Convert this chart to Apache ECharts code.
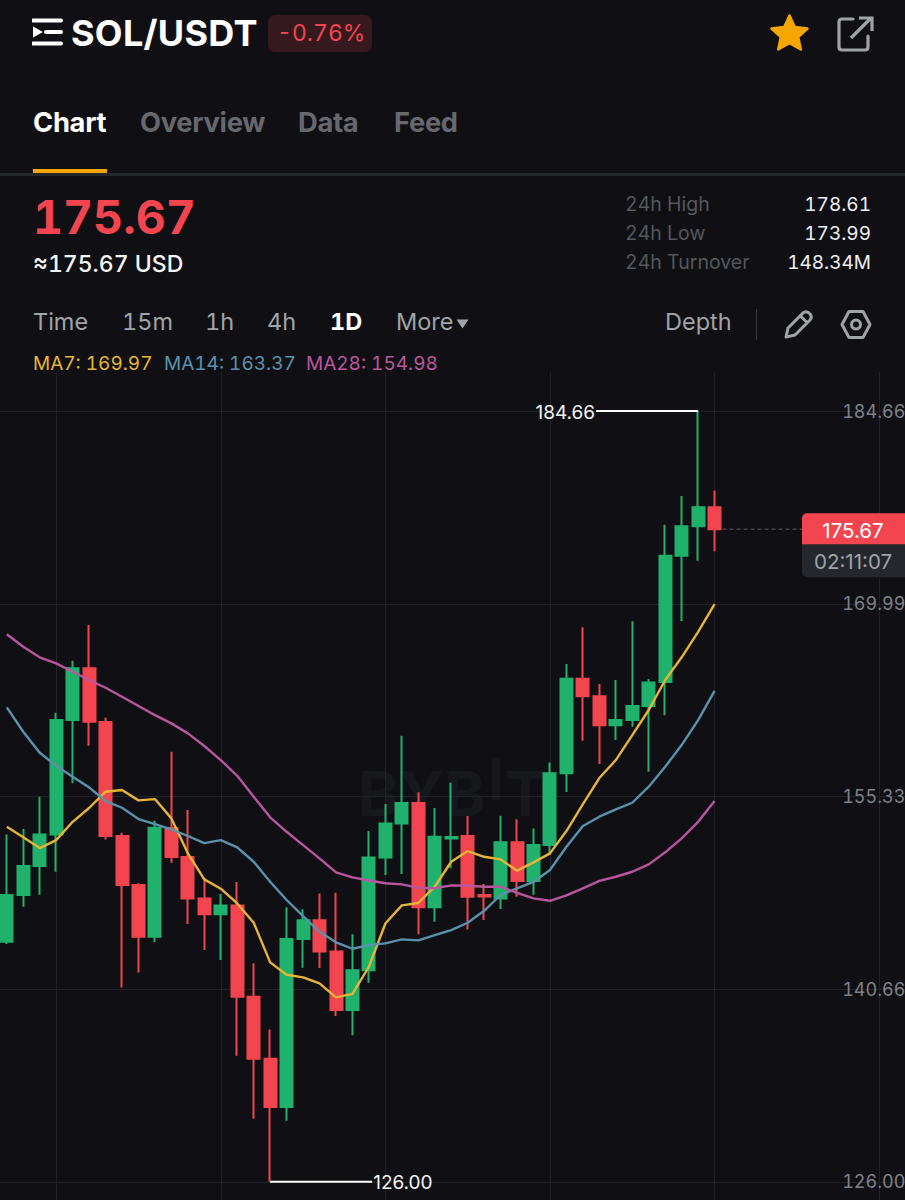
<!DOCTYPE html>
<html>
<head>
<meta charset="utf-8">
<title>SOL/USDT</title>
<script src="https://cdn.jsdelivr.net/npm/echarts@6/dist/echarts.min.js"></script>
<style>
    html, body { margin: 0; padding: 0; background: #101014; }
    body { width: 905px; height: 1200px; position: relative; overflow: hidden; font-family: Inter, "Noto Sans", sans-serif; font-variant-numeric: tabular-nums; }
    #chart { position: absolute; left: 0; top: 0; width: 905px; height: 1200px; }
    #chart text { font-variant-numeric: tabular-nums; }
    .t { position: absolute; white-space: nowrap; line-height: 1; }
    .tab { top: 109px; font-size: 27.3px; font-weight: 700; color: #66686e; letter-spacing: -0.3px; }
    .stat { font-size: 19.5px; color: #55575c; }
    .val { font-size: 19px; color: #eeeff1; right: 34px; }
    .tool { top: 310px; font-size: 23.5px; color: #a0a3a8; }
    .ma { top: 354px; font-size: 19px; }
    svg { position: absolute; }
</style>
</head>
<body>
<div id="chart"></div>

<svg style="left:32px;top:18px" width="31" height="28" viewBox="0 0 31 28">
    <path d="M1 2.5H29M14 14H29M1 25.5H29" stroke="#fff" stroke-width="4" stroke-linecap="round" fill="none"/>
    <path d="M1 8.5L11 14L1 19.5Z" fill="#fff"/>
</svg>
<div class="t" id="symbol" style="left:71px;top:15px;font-size:36px;font-weight:700;color:#fff;letter-spacing:0.3px">SOL/USDT</div>
<div style="position:absolute;left:268px;top:15px;width:104px;height:37px;background:#35191e;border-radius:7px"></div>
<div class="t" style="left:277px;top:22px;font-size:23px;color:#f2454f">-0.76%</div>
<svg style="left:769px;top:13px" width="41" height="39" viewBox="0 0 41 39">
    <path d="M20.5 2.5L25.8 14L38.5 15.5L29.2 24L31.8 36.5L20.5 30.2L9.2 36.5L11.8 24L2.5 15.5L15.2 14Z" fill="#f7a600" stroke="#f7a600" stroke-width="2.5" stroke-linejoin="round"/>
</svg>
<svg style="left:837px;top:15px" width="37" height="37" viewBox="0 0 37 37">
    <path d="M16 4H5Q2 4 2 7V32Q2 35 5 35H28Q31 35 31 32V21" stroke="#a0a3a8" stroke-width="3.2" fill="none" stroke-linecap="round"/>
    <path d="M14 23L34 3M22 3H35V16" stroke="#a0a3a8" stroke-width="3.2" fill="none"/>
</svg>

<div class="t tab" style="left:33px;color:#fff">Chart</div>
<div class="t tab" style="left:140px">Overview</div>
<div class="t tab" style="left:298px">Data</div>
<div class="t tab" style="left:394px">Feed</div>
<div style="position:absolute;left:0;top:173px;width:905px;height:3px;background:#24272c"></div>
<div style="position:absolute;left:33px;top:169px;width:74px;height:4px;background:#f7a600"></div>

<div class="t" style="left:33px;top:194px;font-size:46.5px;font-weight:700;color:#f2454f">175.67</div>
<div class="t" style="left:33px;top:253px;font-size:23px;font-weight:500;color:#f4f5f6">≈175.67 USD</div>
<div class="t stat" style="left:625px;top:195px">24h High</div>
<div class="t stat" style="left:625px;top:224px">24h Low</div>
<div class="t stat" style="left:625px;top:253px">24h Turnover</div>
<div class="t val" style="top:195px">178.61</div>
<div class="t val" style="top:224px">173.99</div>
<div class="t val" style="top:253px">148.34M</div>

<div class="t tool" style="left:33px">Time</div>
<div class="t tool" style="left:122px">15m</div>
<div class="t tool" style="left:205px">1h</div>
<div class="t tool" style="left:267px">4h</div>
<div class="t tool" style="left:330px;font-weight:700;color:#fff">1D</div>
<div class="t tool" style="left:396px">More</div>
<svg style="left:456px;top:319px" width="13" height="10" viewBox="0 0 13 10"><path d="M0.5 0.5H12.5L6.5 9.5Z" fill="#a0a3a8"/></svg>
<div class="t tool" style="left:665px">Depth</div>
<div style="position:absolute;left:756px;top:309px;width:1px;height:31px;background:#34363b"></div>
<svg style="left:783px;top:309px" width="31" height="31" viewBox="0 0 31 31">
    <path d="M3 28L5 19L20 4Q23 1.5 26 4L27 5Q29.5 8 27 11L12 26Z M17.5 7L24.5 14" stroke="#a0a3a8" stroke-width="3" fill="none" stroke-linejoin="round"/>
</svg>
<svg style="left:840px;top:309px" width="32" height="31" viewBox="0 0 32 31">
    <path d="M9 2.5H23L30 15.5L23 28.5H9L2 15.5Z" stroke="#a0a3a8" stroke-width="3" fill="none" stroke-linejoin="round"/>
    <circle cx="16" cy="15.5" r="4.5" stroke="#a0a3a8" stroke-width="3" fill="none"/>
</svg>

<div class="t ma" style="left:33px;color:#e6b437">MA7: 169.97</div>
<div class="t ma" style="left:164px;color:#5a92ad">MA14: 163.37</div>
<div class="t ma" style="left:306px;color:#b9569f">MA28: 154.98</div>

<script>
// daily candles: [open, close, low, high]
var candles = [
    [144.27, 147.83, 144.10, 152.44], [147.83, 150.03, 146.93, 152.85], [150.03, 152.44, 147.85, 155.31],
    [152.44, 161.14, 149.60, 161.70], [161.14, 165.08, 156.33, 165.66], [165.08, 161.01, 159.19, 168.37],
    [160.99, 152.32, 152.06, 161.32], [152.32, 148.59, 140.80, 152.57], [148.59, 144.65, 141.94, 148.72],
    [144.65, 152.95, 144.23, 153.48], [152.92, 150.72, 150.28, 158.73], [150.72, 147.57, 145.62, 154.29],
    [147.57, 146.36, 143.64, 149.12], [146.36, 147.04, 142.88, 147.90], [147.04, 140.09, 135.60, 148.82],
    [140.09, 135.37, 130.80, 142.63], [135.37, 131.69, 126.00, 137.60], [131.69, 144.48, 130.65, 146.89],
    [144.48, 145.90, 142.29, 146.74], [145.90, 143.54, 142.27, 147.95], [143.54, 139.07, 138.62, 148.00],
    [139.07, 142.10, 137.15, 144.84], [142.10, 150.69, 141.15, 152.70], [150.69, 153.28, 149.35, 154.75],
    [153.28, 154.83, 149.42, 159.95], [154.83, 146.89, 144.84, 155.64], [146.89, 152.26, 145.79, 154.45],
    [152.13, 152.24, 149.86, 156.37], [152.32, 147.70, 145.21, 153.84], [147.83, 147.71, 145.92, 148.66],
    [147.57, 151.84, 146.76, 153.86], [151.84, 148.89, 147.70, 153.59], [148.89, 151.63, 147.85, 152.90],
    [151.63, 157.09, 150.87, 157.92], [157.09, 164.29, 155.66, 165.41], [164.29, 162.95, 159.57, 168.20],
    [162.95, 160.74, 157.80, 163.88], [160.74, 161.14, 159.62, 164.19], [161.14, 162.21, 160.63, 168.66],
    [162.21, 164.01, 157.21, 164.26], [164.04, 173.65, 161.50, 176.01], [173.65, 175.89, 168.68, 178.19],
    [175.89, 177.33, 173.27, 184.66], [177.33, 175.67, 173.99, 178.61]
];

var ma7 = [
    153.02, 152.22, 151.40, 152.01, 153.40, 154.45, 155.69, 155.82, 155.03, 155.13, 153.66,
    151.00, 149.02, 148.31, 147.19, 145.72, 142.70, 141.76, 141.56, 141.11, 140.04, 140.31,
    142.37, 145.66, 147.04, 147.22, 148.46, 150.36, 151.17, 150.74, 150.54, 149.68, 150.31,
    151.00, 152.70, 154.75, 156.73, 158.10, 160.00, 161.91, 164.19, 165.92, 167.86, 169.97
];
var ma14 = [
    162.11, 160.25, 158.66, 157.67, 156.83, 156.02, 154.98, 154.47, 153.61, 153.23, 152.83,
    152.32, 151.78, 152.01, 151.46, 150.36, 148.84, 147.45, 146.23, 145.03, 144.23, 143.74,
    144.02, 144.15, 144.45, 144.38, 144.78, 145.16, 145.72, 146.63, 147.83, 148.34, 148.82,
    149.73, 151.50, 153.08, 153.79, 154.35, 154.85, 156.07, 157.59, 159.24, 161.14, 163.37
];
var ma28 = [
    167.67, 166.72, 165.92, 165.46, 164.82, 164.19, 163.60, 162.92, 162.21, 161.52, 160.89,
    160.13, 159.17, 158.10, 156.90, 155.31, 153.74, 152.64, 151.63, 150.62, 149.55, 149.17,
    148.93, 148.72, 148.64, 148.38, 148.34, 148.56, 148.53, 148.46, 148.46, 148.00, 147.57,
    147.39, 147.80, 148.34, 148.91, 149.22, 149.60, 150.16, 151.08, 152.14, 153.40, 154.98
];

var priceTicks = [126.00, 140.66, 155.33, 169.99, 184.66];
// candle index, price, side the label goes to
var extremes = [[42, 184.66, -1], [16, 126.00, 1]];
var lastPrice = [[43, 175.67]];
var countdown = "02:11:07";

var GREEN = "#20b26c", RED = "#f2454f", FONT = "Inter, 'Noto Sans', sans-serif";

// empty slots on the right, the chart keeps some room next to the last candle
var categories = [];
for (var i = 0; i < 56; i++) categories.push(String(i));

function maSeries(name, data, color) {
    return {
        name: name, type: "line", data: data, symbol: "none", z: 5,
        lineStyle: { color: color, width: 2.4 }
    };
}

function renderExtreme(params, api) {
    var p = api.coord([api.value(0), api.value(1)]);
    var side = api.value(2);
    var end = p[0] + side * 102;
    return {
        type: "group",
        children: [
            { type: "line", shape: { x1: p[0], y1: p[1], x2: end, y2: p[1] }, style: { stroke: "#fff", lineWidth: 2 } },
            {
                type: "text",
                style: {
                    text: api.value(1).toFixed(2), x: end + side, y: p[1] + 1, fill: "#f4f5f6",
                    font: "19px " + FONT, textAlign: side < 0 ? "right" : "left", textVerticalAlign: "middle"
                }
            }
        ]
    };
}

function renderLastPrice(params, api) {
    var p = api.coord([api.value(0), api.value(1)]);
    var tagX = 802;
    return {
        type: "group",
        children: [
            { type: "line", shape: { x1: p[0] + 8, y1: p[1], x2: tagX, y2: p[1] }, style: { stroke: "#5d5f65", lineWidth: 1, lineDash: [4, 3] } },
            { type: "rect", shape: { x: tagX, y: p[1] - 16, width: 110, height: 64, r: 5 }, style: { fill: "#24272c" } },
            { type: "rect", shape: { x: tagX, y: p[1] - 16, width: 110, height: 31, r: [5, 0, 0, 0] }, style: { fill: RED } },
            {
                type: "text",
                style: { text: api.value(1).toFixed(2), x: 853, y: p[1] + 1, fill: "#fff", font: "20.5px " + FONT, textAlign: "center", textVerticalAlign: "middle" }
            },
            {
                type: "text",
                style: { text: countdown, x: 853, y: p[1] + 32, fill: "#a0a3a8", font: "20.5px " + FONT, textAlign: "center", textVerticalAlign: "middle" }
            }
        ]
    };
}

var chart = echarts.init(document.getElementById("chart"), null, { renderer: "svg" });
chart.setOption({
    backgroundColor: "#101014",
    animation: false,
    // 13.14 px per USDT, one candle every 16.46 px
    grid: { left: -1.43, top: 372, width: 921.76, height: 828, outerBoundsMode: "none" },
    graphic: [
        { type: "text", z: 0, style: { text: "BYB", x: 358, y: 762, fill: "#17181c", font: "700 62px " + FONT } },
        { type: "rect", z: 0, shape: { x: 492, y: 757, width: 8, height: 43 }, style: { fill: "#17181c" } },
        { type: "text", z: 0, style: { text: "T", x: 505, y: 762, fill: "#17181c", font: "700 62px " + FONT } }
    ],
    xAxis: {
        type: "category",
        data: categories,
        boundaryGap: true,
        axisLine: { show: false },
        axisTick: { show: false },
        axisLabel: { show: false },
        splitLine: {
            show: true,
            alignWithLabel: true,
            interval: function (index) { return index % 10 === 3; },
            lineStyle: { color: "#212227", width: 1 }
        }
    },
    yAxis: {
        type: "value",
        position: "right",
        min: 124.62,
        max: 187.63,
        axisLine: { show: false },
        axisTick: { show: false, customValues: priceTicks },
        axisLabel: {
            inside: true,
            margin: 15,
            customValues: priceTicks,
            color: "#7f8187",
            fontSize: 18,
            fontFamily: FONT,
            formatter: function (v) { return v.toFixed(2); }
        },
        splitLine: { show: true, lineStyle: { color: "#212227", width: 1 } }
    },
    series: [
        {
            name: "SOL/USDT",
            type: "candlestick",
            data: candles,
            barWidth: 12.5,
            clip: false,
            z: 3,
            itemStyle: {
                color: GREEN, color0: RED, borderColor: GREEN, borderColor0: RED, borderWidth: 2
            }
        },
        maSeries("MA7", ma7, "#e6b437"),
        maSeries("MA14", ma14, "#5a92ad"),
        maSeries("MA28", ma28, "#b9569f"),
        { type: "custom", data: extremes, renderItem: renderExtreme, z: 6, clip: false },
        { type: "custom", data: lastPrice, renderItem: renderLastPrice, z: 6, clip: false }
    ]
});
</script>
</body>
</html>
